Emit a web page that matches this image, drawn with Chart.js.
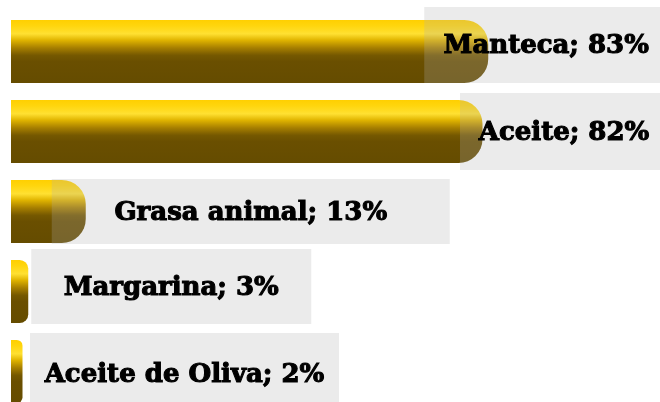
<!DOCTYPE html>
<html>
<head>
<meta charset="utf-8">
<script src="https://cdn.jsdelivr.net/npm/chart.js@4/dist/chart.umd.min.js"></script>
<style>
  html, body { margin: 0; padding: 0; background: #fff; overflow: hidden; }
  #wrap { position: relative; width: 660px; height: 420px; }
</style>
</head>
<body>
<div id="wrap"><canvas id="c"></canvas></div>
<script>
// datos (porcentaje)
const categorias = ["Manteca", "Aceite", "Grasa animal", "Margarina", "Aceite de Oliva"];
const valores = [83, 82, 13, 3, 2];

// caja de etiqueta: desplazamiento desde el extremo de la barra / centro, tamaño
const cajaDx = [58, 81.5, 165, 143, 162];
const cajaDy = [-6.5, 0, 0, -5, 2.5];
const cajaW = [244, 208, 398, 280, 309];
const cajaH = [76, 77, 65, 75, 82];

function barGradient(ctx) {
  const chart = ctx.chart;
  const y = chart.scales.y;
  if (!chart.chartArea || !y) return "#b08a00";
  const cy = y.getPixelForValue(ctx.dataIndex);
  const step = Math.abs(y.getPixelForValue(1) - y.getPixelForValue(0)) || 80;
  const h = step * 0.79;
  const g = chart.ctx.createLinearGradient(0, cy - h / 2, 0, cy + h / 2);
  g.addColorStop(0, "#ffcf00");
  g.addColorStop(0.1, "#ffd60f");
  g.addColorStop(0.22, "#ffe032");
  g.addColorStop(0.32, "#e0b400");
  g.addColorStop(0.44, "#a88000");
  g.addColorStop(0.56, "#755800");
  g.addColorStop(0.66, "#6a4f00");
  g.addColorStop(1, "#654c00");
  return g;
}

const etiquetas = {
  id: "etiquetas",
  afterDatasetsDraw(chart) {
    const ctx = chart.ctx;
    const meta = chart.getDatasetMeta(0);
    ctx.save();
    ctx.font = "bold 26px 'DejaVu Serif'";
    ctx.textAlign = "center";
    ctx.textBaseline = "middle";
    meta.data.forEach((bar, i) => {
      const cx = bar.x + cajaDx[i];
      const cy = bar.y + cajaDy[i];
      ctx.fillStyle = "rgba(175,175,175,0.25)";
      ctx.fillRect(cx - cajaW[i] / 2, cy - cajaH[i] / 2, cajaW[i], cajaH[i]);
      const txt = categorias[i] + "; " + valores[i] + "%";
      ctx.fillStyle = "#000";
      ctx.strokeStyle = "#000";
      ctx.lineWidth = 1.1;
      ctx.fillText(txt, cx, cy + 1.5);
      ctx.strokeText(txt, cx, cy + 1.5);
    });
    ctx.restore();
  }
};

new Chart(document.getElementById("c"), {
  type: "bar",
  data: {
    labels: categorias,
    datasets: [{
      data: valores,
      backgroundColor: barGradient,
      borderWidth: 0,
      borderRadius: { topRight: 24, bottomRight: 24, topLeft: 0, bottomLeft: 0 },
      borderSkipped: false,
      barPercentage: 0.79,
      categoryPercentage: 1
    }]
  },
  options: {
    indexAxis: "y",
    responsive: true,
    maintainAspectRatio: false,
    animation: false,
    layout: { padding: { left: 11, right: 74, top: 11.5, bottom: 8.5 } },
    scales: {
      x: { display: false, min: 0, max: 100 },
      y: { display: false }
    },
    plugins: {
      legend: { display: false },
      tooltip: { enabled: false }
    }
  },
  plugins: [etiquetas]
});
</script>
</body>
</html>
